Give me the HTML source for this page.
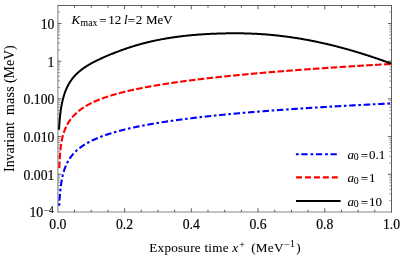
<!DOCTYPE html>
<html><head><meta charset="utf-8"><title>Invariant mass vs exposure time</title>
<style>
html,body{margin:0;padding:0;background:#fff;}
svg{display:block;will-change:transform;}
text{font-family:"Liberation Serif",serif;font-size:13.7px;fill:#000;stroke:#000;stroke-width:0.18px;}
</style></head><body>
<svg width="400" height="256" viewBox="0 0 400 256">
<rect width="400" height="256" fill="#fff"/>
<path d="M57.45 5.5 H392.0 M391.5 5.5 V212.4" fill="none" stroke="#606060" stroke-width="1"/>
<path d="M57.45 212.0 H392.0" fill="none" stroke="#666" stroke-width="0.8"/>
<path d="M57.9 5.5 V212.4" fill="none" stroke="#666" stroke-width="0.85"/>
<path d="M74.53 212.0 v-2.3 M74.53 5.5 v2.3 M91.22 212.0 v-2.3 M91.22 5.5 v2.3 M107.90 212.0 v-2.3 M107.90 5.5 v2.3 M124.58 212.0 v-3.8 M124.58 5.5 v3.8 M141.26 212.0 v-2.3 M141.26 5.5 v2.3 M157.95 212.0 v-2.3 M157.95 5.5 v2.3 M174.63 212.0 v-2.3 M174.63 5.5 v2.3 M191.31 212.0 v-3.8 M191.31 5.5 v3.8 M207.99 212.0 v-2.3 M207.99 5.5 v2.3 M224.67 212.0 v-2.3 M224.67 5.5 v2.3 M241.36 212.0 v-2.3 M241.36 5.5 v2.3 M258.04 212.0 v-3.8 M258.04 5.5 v3.8 M274.72 212.0 v-2.3 M274.72 5.5 v2.3 M291.41 212.0 v-2.3 M291.41 5.5 v2.3 M308.09 212.0 v-2.3 M308.09 5.5 v2.3 M324.77 212.0 v-3.8 M324.77 5.5 v3.8 M341.45 212.0 v-2.3 M341.45 5.5 v2.3 M358.13 212.0 v-2.3 M358.13 5.5 v2.3 M374.82 212.0 v-2.3 M374.82 5.5 v2.3 M57.85 174.30 h3.6 M391.5 174.30 h-3.6 M57.85 136.60 h3.6 M391.5 136.60 h-3.6 M57.85 98.89 h3.6 M391.5 98.89 h-3.6 M57.85 61.19 h3.6 M391.5 61.19 h-3.6 M57.85 23.49 h3.6 M391.5 23.49 h-3.6" fill="none" stroke="#383838" stroke-width="0.8"/>
<path d="M57.85 200.65 h2.2 M391.5 200.65 h-2.2 M57.85 194.01 h2.2 M391.5 194.01 h-2.2 M57.85 189.30 h2.2 M391.5 189.30 h-2.2 M57.85 185.65 h2.2 M391.5 185.65 h-2.2 M57.85 182.66 h2.2 M391.5 182.66 h-2.2 M57.85 180.14 h2.2 M391.5 180.14 h-2.2 M57.85 177.95 h2.2 M391.5 177.95 h-2.2 M57.85 176.02 h2.2 M391.5 176.02 h-2.2 M57.85 162.95 h2.2 M391.5 162.95 h-2.2 M57.85 156.31 h2.2 M391.5 156.31 h-2.2 M57.85 151.60 h2.2 M391.5 151.60 h-2.2 M57.85 147.94 h2.2 M391.5 147.94 h-2.2 M57.85 144.96 h2.2 M391.5 144.96 h-2.2 M57.85 142.44 h2.2 M391.5 142.44 h-2.2 M57.85 140.25 h2.2 M391.5 140.25 h-2.2 M57.85 138.32 h2.2 M391.5 138.32 h-2.2 M57.85 125.25 h2.2 M391.5 125.25 h-2.2 M57.85 118.61 h2.2 M391.5 118.61 h-2.2 M57.85 113.90 h2.2 M391.5 113.90 h-2.2 M57.85 110.24 h2.2 M391.5 110.24 h-2.2 M57.85 107.26 h2.2 M391.5 107.26 h-2.2 M57.85 104.73 h2.2 M391.5 104.73 h-2.2 M57.85 102.55 h2.2 M391.5 102.55 h-2.2 M57.85 100.62 h2.2 M391.5 100.62 h-2.2 M57.85 87.54 h2.2 M391.5 87.54 h-2.2 M57.85 80.90 h2.2 M391.5 80.90 h-2.2 M57.85 76.19 h2.2 M391.5 76.19 h-2.2 M57.85 72.54 h2.2 M391.5 72.54 h-2.2 M57.85 69.56 h2.2 M391.5 69.56 h-2.2 M57.85 67.03 h2.2 M391.5 67.03 h-2.2 M57.85 64.84 h2.2 M391.5 64.84 h-2.2 M57.85 62.92 h2.2 M391.5 62.92 h-2.2 M57.85 49.84 h2.2 M391.5 49.84 h-2.2 M57.85 43.20 h2.2 M391.5 43.20 h-2.2 M57.85 38.49 h2.2 M391.5 38.49 h-2.2 M57.85 34.84 h2.2 M391.5 34.84 h-2.2 M57.85 31.85 h2.2 M391.5 31.85 h-2.2 M57.85 29.33 h2.2 M391.5 29.33 h-2.2 M57.85 27.14 h2.2 M391.5 27.14 h-2.2 M57.85 25.21 h2.2 M391.5 25.21 h-2.2 M57.85 12.14 h2.2 M391.5 12.14 h-2.2" fill="none" stroke="#6a6a6a" stroke-width="0.7"/>
<path d="M59.20 205.91 L59.23 205.27 L59.26 204.64 L59.30 204.00 L59.33 203.37 L59.37 202.73 L59.41 202.10 L59.44 201.46 L59.48 200.83 L59.52 200.20 L59.57 199.56 L59.61 198.93 L59.65 198.29 L59.70 197.66 L59.74 197.02 L59.79 196.39 L59.84 195.76 L59.89 195.12 L59.95 194.49 L60.00 193.86 L60.06 193.22 L60.12 192.59 L60.18 191.96 L60.24 191.33 L60.30 190.69 L60.37 190.06 L60.44 189.43 L60.51 188.80 L60.58 188.17 L60.66 187.53 L60.74 186.90 L60.82 186.27 L60.90 185.64 L60.99 185.01 L61.07 184.38 L61.17 183.76 L61.26 183.13 L61.36 182.50 L61.46 181.87 L61.57 181.24 L61.68 180.62 L61.79 179.99 L61.90 179.37 L62.03 178.74 L62.15 178.12 L62.28 177.50 L62.41 176.88 L62.55 176.26 L62.69 175.64 L62.84 175.02 L62.99 174.40 L63.15 173.79 L63.31 173.17 L63.48 172.56 L63.66 171.95 L63.84 171.34 L64.02 170.73 L64.22 170.12 L64.42 169.52 L64.62 168.92 L64.84 168.32 L65.05 167.72 L65.28 167.13 L65.52 166.54 L65.76 165.95 L66.01 165.37 L66.26 164.78 L66.53 164.21 L66.80 163.63 L67.08 163.06 L67.37 162.49 L67.66 161.93 L67.97 161.37 L68.28 160.82 L68.60 160.27 L68.93 159.73 L69.27 159.19 L69.61 158.66 L69.96 158.13 L70.33 157.60 L70.70 157.09 L71.07 156.58 L71.46 156.07 L71.85 155.57 L72.25 155.08 L72.66 154.59 L73.08 154.11 L73.50 153.64 L73.93 153.17 L74.37 152.71 L74.81 152.25 L75.26 151.80 L75.72 151.36 L76.18 150.93 L76.65 150.50 L77.13 150.07 L77.61 149.66 L78.09 149.25 L78.58 148.84 L79.08 148.45 L79.58 148.05 L80.08 147.67 L80.59 147.29 L81.11 146.92 L81.63 146.55 L82.15 146.18 L82.67 145.83 L83.20 145.48 L83.74 145.13 L84.27 144.79 L84.81 144.45 L85.36 144.12 L85.90 143.80 L86.45 143.48 L87.00 143.16 L87.56 142.85 L88.12 142.55 L88.67 142.24 L89.24 141.95 L89.80 141.65 L90.37 141.36 L90.93 141.08 L91.50 140.80 L92.08 140.52 L92.65 140.25 L93.23 139.98 L93.80 139.71 L94.38 139.45 L94.96 139.19 L95.54 138.93 L96.13 138.68 L96.71 138.43 L97.30 138.19 L97.89 137.94 L98.48 137.71 L99.07 137.47 L99.66 137.23 L100.25 137.00 L100.84 136.78 L101.44 136.55 L102.03 136.33 L102.63 136.11 L103.23 135.89 L103.82 135.68 L104.42 135.46 L105.02 135.25 L105.62 135.04 L106.22 134.84 L106.83 134.64 L107.43 134.44 L108.03 134.24 L108.64 134.04 L109.24 133.85 L109.85 133.65 L110.46 133.46 L111.06 133.27 L111.67 133.09 L112.28 132.90 L112.89 132.72 L113.50 132.54 L114.11 132.36 L114.72 132.18 L115.33 132.01 L115.94 131.84 L116.55 131.66 L117.16 131.49 L117.78 131.32 L118.39 131.16 L119.00 130.99 L119.62 130.83 L120.23 130.67 L120.85 130.50 L121.46 130.34 L122.08 130.19 L122.69 130.03 L123.31 129.87 L123.93 129.72 L124.54 129.57 L125.16 129.42 L125.78 129.27 L126.40 129.12 L127.02 128.97 L127.63 128.83 L128.25 128.68 L128.87 128.54 L129.49 128.39 L130.11 128.25 L130.73 128.11 L131.35 127.97 L131.97 127.84 L132.59 127.70 L133.21 127.56 L133.84 127.43 L134.46 127.30 L135.08 127.16 L135.70 127.03 L136.32 126.90 L136.95 126.77 L137.57 126.64 L138.19 126.52 L138.81 126.39 L139.44 126.26 L140.06 126.14 L140.68 126.02 L141.31 125.89 L141.93 125.77 L142.55 125.65 L143.18 125.53 L143.80 125.41 L144.43 125.29 L145.05 125.17 L145.68 125.06 L146.30 124.94 L146.93 124.82 L147.55 124.71 L148.18 124.60 L148.80 124.48 L149.43 124.37 L150.05 124.26 L150.68 124.15 L151.31 124.04 L151.93 123.93 L152.56 123.82 L153.19 123.71 L153.81 123.61 L154.44 123.50 L155.07 123.39 L155.69 123.29 L156.32 123.18 L156.95 123.08 L157.57 122.98 L158.20 122.87 L158.83 122.77 L159.46 122.67 L160.08 122.57 L160.71 122.47 L161.34 122.37 L161.97 122.27 L162.59 122.17 L163.22 122.08 L163.85 121.98 L164.48 121.88 L165.11 121.79 L165.74 121.69 L166.36 121.60 L166.99 121.50 L167.62 121.41 L168.25 121.31 L168.88 121.22 L169.51 121.13 L170.14 121.04 L170.77 120.95 L171.40 120.86 L172.02 120.77 L172.65 120.68 L173.28 120.59 L173.91 120.50 L174.54 120.41 L175.17 120.32 L175.80 120.23 L176.43 120.15 L177.06 120.06 L177.69 119.97 L178.32 119.89 L178.95 119.80 L179.58 119.72 L180.21 119.64 L180.84 119.55 L181.47 119.47 L182.10 119.39 L182.73 119.30 L183.36 119.22 L183.99 119.14 L184.62 119.06 L185.25 118.98 L185.88 118.90 L186.51 118.82 L187.14 118.74 L187.77 118.66 L188.41 118.58 L189.04 118.50 L189.67 118.42 L190.30 118.34 L190.93 118.27 L191.56 118.19 L192.19 118.11 L192.82 118.04 L193.45 117.96 L194.08 117.88 L194.71 117.81 L195.35 117.73 L195.98 117.66 L196.61 117.59 L197.24 117.51 L197.87 117.44 L198.50 117.36 L199.13 117.29 L199.77 117.22 L200.40 117.15 L201.03 117.07 L201.66 117.00 L202.29 116.93 L202.92 116.86 L203.56 116.79 L204.19 116.72 L204.82 116.65 L205.45 116.58 L206.08 116.51 L206.71 116.44 L207.35 116.37 L207.98 116.30 L208.61 116.24 L209.24 116.17 L209.87 116.10 L210.51 116.03 L211.14 115.97 L211.77 115.90 L212.40 115.83 L213.03 115.77 L213.67 115.70 L214.30 115.63 L214.93 115.57 L215.56 115.50 L216.20 115.44 L216.83 115.37 L217.46 115.31 L218.09 115.24 L218.73 115.18 L219.36 115.12 L219.99 115.05 L220.62 114.99 L221.26 114.93 L221.89 114.86 L222.52 114.80 L223.15 114.74 L223.79 114.68 L224.42 114.62 L225.05 114.55 L225.68 114.49 L226.32 114.43 L226.95 114.37 L227.58 114.31 L228.21 114.25 L228.85 114.19 L229.48 114.13 L230.11 114.07 L230.75 114.01 L231.38 113.95 L232.01 113.89 L232.64 113.83 L233.28 113.77 L233.91 113.72 L234.54 113.66 L235.18 113.60 L235.81 113.54 L236.44 113.48 L237.08 113.43 L237.71 113.37 L238.34 113.31 L238.97 113.26 L239.61 113.20 L240.24 113.14 L240.87 113.09 L241.51 113.03 L242.14 112.98 L242.77 112.92 L243.41 112.87 L244.04 112.81 L244.67 112.75 L245.31 112.70 L245.94 112.65 L246.57 112.59 L247.21 112.54 L247.84 112.48 L248.47 112.43 L249.11 112.38 L249.74 112.32 L250.37 112.27 L251.01 112.22 L251.64 112.16 L252.27 112.11 L252.91 112.06 L253.54 112.00 L254.17 111.95 L254.81 111.90 L255.44 111.85 L256.07 111.80 L256.71 111.74 L257.34 111.69 L257.97 111.64 L258.61 111.59 L259.24 111.54 L259.88 111.49 L260.51 111.44 L261.14 111.39 L261.78 111.34 L262.41 111.29 L263.04 111.24 L263.68 111.19 L264.31 111.14 L264.94 111.09 L265.58 111.04 L266.21 110.99 L266.85 110.94 L267.48 110.89 L268.11 110.84 L268.75 110.79 L269.38 110.75 L270.01 110.70 L270.65 110.65 L271.28 110.60 L271.92 110.55 L272.55 110.51 L273.18 110.46 L273.82 110.41 L274.45 110.36 L275.09 110.32 L275.72 110.27 L276.35 110.22 L276.99 110.18 L277.62 110.13 L278.26 110.08 L278.89 110.04 L279.52 109.99 L280.16 109.94 L280.79 109.90 L281.42 109.85 L282.06 109.81 L282.69 109.76 L283.33 109.72 L283.96 109.67 L284.59 109.63 L285.23 109.58 L285.86 109.54 L286.50 109.49 L287.13 109.45 L287.77 109.40 L288.40 109.36 L289.03 109.31 L289.67 109.27 L290.30 109.23 L290.94 109.18 L291.57 109.14 L292.20 109.09 L292.84 109.05 L293.47 109.01 L294.11 108.96 L294.74 108.92 L295.37 108.88 L296.01 108.83 L296.64 108.79 L297.28 108.75 L297.91 108.71 L298.55 108.66 L299.18 108.62 L299.81 108.58 L300.45 108.54 L301.08 108.50 L301.72 108.45 L302.35 108.41 L302.99 108.37 L303.62 108.33 L304.25 108.29 L304.89 108.25 L305.52 108.20 L306.16 108.16 L306.79 108.12 L307.43 108.08 L308.06 108.04 L308.69 108.00 L309.33 107.96 L309.96 107.92 L310.60 107.88 L311.23 107.84 L311.87 107.80 L312.50 107.76 L313.13 107.72 L313.77 107.68 L314.40 107.64 L315.04 107.60 L315.67 107.56 L316.31 107.52 L316.94 107.48 L317.58 107.44 L318.21 107.40 L318.84 107.36 L319.48 107.32 L320.11 107.28 L320.75 107.25 L321.38 107.21 L322.02 107.17 L322.65 107.13 L323.29 107.09 L323.92 107.05 L324.55 107.01 L325.19 106.98 L325.82 106.94 L326.46 106.90 L327.09 106.86 L327.73 106.82 L328.36 106.79 L329.00 106.75 L329.63 106.71 L330.27 106.67 L330.90 106.64 L331.53 106.60 L332.17 106.56 L332.80 106.53 L333.44 106.49 L334.07 106.45 L334.71 106.41 L335.34 106.38 L335.98 106.34 L336.61 106.31 L337.25 106.27 L337.88 106.23 L338.51 106.20 L339.15 106.16 L339.78 106.12 L340.42 106.09 L341.05 106.05 L341.69 106.02 L342.32 105.98 L342.96 105.94 L343.59 105.91 L344.23 105.87 L344.86 105.84 L345.50 105.80 L346.13 105.77 L346.76 105.73 L347.40 105.70 L348.03 105.66 L348.67 105.63 L349.30 105.59 L349.94 105.56 L350.57 105.52 L351.21 105.49 L351.84 105.45 L352.48 105.42 L353.11 105.38 L353.75 105.35 L354.38 105.32 L355.02 105.28 L355.65 105.25 L356.28 105.21 L356.92 105.18 L357.55 105.14 L358.19 105.11 L358.82 105.08 L359.46 105.04 L360.09 105.01 L360.73 104.98 L361.36 104.94 L362.00 104.91 L362.63 104.88 L363.27 104.84 L363.90 104.81 L364.54 104.78 L365.17 104.74 L365.81 104.71 L366.44 104.68 L367.08 104.64 L367.71 104.61 L368.35 104.58 L368.98 104.55 L369.61 104.51 L370.25 104.48 L370.88 104.45 L371.52 104.42 L372.15 104.38 L372.79 104.35 L373.42 104.32 L374.06 104.29 L374.69 104.26 L375.33 104.22 L375.96 104.19 L376.60 104.16 L377.23 104.13 L377.87 104.10 L378.50 104.06 L379.14 104.03 L379.77 104.00 L380.41 103.97 L381.04 103.94 L381.68 103.91 L382.31 103.88 L382.95 103.84 L383.58 103.81 L384.22 103.78 L384.85 103.75 L385.49 103.72 L386.12 103.69 L386.76 103.66 L387.39 103.63 L388.03 103.60 L388.66 103.57 L389.30 103.54 L389.93 103.51 L390.57 103.48 L391.20 103.44" fill="none" stroke="#0000ff" stroke-width="2.1" stroke-dasharray="6.57 2.67 2.58 2.67" stroke-dashoffset="-5.4"/>
<path d="M59.30 168.45 L59.32 167.81 L59.35 167.17 L59.37 166.54 L59.40 165.90 L59.43 165.27 L59.46 164.63 L59.49 163.99 L59.52 163.36 L59.55 162.72 L59.58 162.09 L59.61 161.45 L59.64 160.82 L59.68 160.18 L59.71 159.54 L59.75 158.91 L59.79 158.27 L59.83 157.64 L59.87 157.00 L59.91 156.37 L59.96 155.73 L60.00 155.10 L60.05 154.46 L60.10 153.83 L60.15 153.19 L60.20 152.56 L60.25 151.92 L60.31 151.29 L60.37 150.66 L60.43 150.02 L60.50 149.39 L60.56 148.76 L60.63 148.12 L60.70 147.49 L60.78 146.86 L60.86 146.23 L60.94 145.60 L61.02 144.96 L61.11 144.33 L61.20 143.70 L61.30 143.08 L61.40 142.45 L61.50 141.82 L61.61 141.19 L61.73 140.57 L61.85 139.94 L61.98 139.32 L62.11 138.69 L62.24 138.07 L62.39 137.45 L62.54 136.83 L62.69 136.22 L62.86 135.60 L63.02 134.99 L63.20 134.38 L63.39 133.77 L63.58 133.16 L63.78 132.55 L63.98 131.95 L64.20 131.35 L64.42 130.76 L64.65 130.16 L64.88 129.57 L65.13 128.98 L65.38 128.40 L65.64 127.82 L65.90 127.24 L66.18 126.66 L66.46 126.09 L66.75 125.52 L67.04 124.96 L67.35 124.40 L67.66 123.85 L67.98 123.30 L68.31 122.75 L68.64 122.21 L68.99 121.67 L69.34 121.14 L69.70 120.62 L70.06 120.10 L70.44 119.58 L70.82 119.07 L71.21 118.57 L71.60 118.07 L72.01 117.58 L72.42 117.09 L72.84 116.61 L73.26 116.14 L73.69 115.67 L74.13 115.20 L74.57 114.75 L75.02 114.30 L75.48 113.85 L75.94 113.42 L76.41 112.98 L76.88 112.56 L77.36 112.14 L77.84 111.73 L78.33 111.32 L78.83 110.92 L79.33 110.52 L79.83 110.13 L80.34 109.75 L80.85 109.37 L81.37 109.00 L81.89 108.63 L82.41 108.27 L82.94 107.91 L83.47 107.56 L84.01 107.22 L84.54 106.88 L85.09 106.54 L85.63 106.21 L86.18 105.89 L86.73 105.57 L87.28 105.25 L87.84 104.94 L88.39 104.64 L88.96 104.34 L89.52 104.04 L90.08 103.75 L90.65 103.46 L91.22 103.17 L91.79 102.89 L92.37 102.62 L92.94 102.34 L93.52 102.08 L94.10 101.81 L94.68 101.55 L95.26 101.29 L95.84 101.04 L96.43 100.79 L97.01 100.54 L97.60 100.29 L98.19 100.05 L98.78 99.81 L99.37 99.58 L99.97 99.34 L100.56 99.12 L101.15 98.89 L101.75 98.66 L102.35 98.44 L102.94 98.22 L103.54 98.01 L104.14 97.79 L104.74 97.58 L105.34 97.37 L105.95 97.17 L106.55 96.96 L107.15 96.76 L107.76 96.56 L108.36 96.37 L108.97 96.17 L109.58 95.98 L110.18 95.79 L110.79 95.60 L111.40 95.41 L112.01 95.23 L112.62 95.04 L113.23 94.86 L113.84 94.68 L114.45 94.50 L115.06 94.33 L115.67 94.15 L116.29 93.98 L116.90 93.81 L117.51 93.64 L118.13 93.47 L118.74 93.31 L119.36 93.14 L119.97 92.98 L120.59 92.82 L121.21 92.66 L121.82 92.50 L122.44 92.34 L123.06 92.18 L123.67 92.03 L124.29 91.88 L124.91 91.72 L125.53 91.57 L126.15 91.42 L126.77 91.28 L127.39 91.13 L128.00 90.98 L128.62 90.84 L129.25 90.70 L129.87 90.55 L130.49 90.41 L131.11 90.27 L131.73 90.13 L132.35 90.00 L132.97 89.86 L133.59 89.72 L134.22 89.59 L134.84 89.45 L135.46 89.32 L136.08 89.19 L136.71 89.06 L137.33 88.93 L137.95 88.80 L138.58 88.67 L139.20 88.55 L139.82 88.42 L140.45 88.29 L141.07 88.17 L141.70 88.05 L142.32 87.92 L142.95 87.80 L143.57 87.68 L144.20 87.56 L144.82 87.44 L145.45 87.32 L146.07 87.20 L146.70 87.09 L147.33 86.97 L147.95 86.86 L148.58 86.74 L149.20 86.63 L149.83 86.51 L150.46 86.40 L151.08 86.29 L151.71 86.18 L152.34 86.07 L152.96 85.96 L153.59 85.85 L154.22 85.74 L154.85 85.63 L155.47 85.52 L156.10 85.42 L156.73 85.31 L157.36 85.21 L157.98 85.10 L158.61 85.00 L159.24 84.89 L159.87 84.79 L160.50 84.69 L161.13 84.59 L161.75 84.48 L162.38 84.38 L163.01 84.28 L163.64 84.18 L164.27 84.08 L164.90 83.99 L165.53 83.89 L166.16 83.79 L166.78 83.69 L167.41 83.60 L168.04 83.50 L168.67 83.40 L169.30 83.31 L169.93 83.22 L170.56 83.12 L171.19 83.03 L171.82 82.93 L172.45 82.84 L173.08 82.75 L173.71 82.66 L174.34 82.57 L174.97 82.48 L175.60 82.39 L176.23 82.30 L176.86 82.21 L177.49 82.12 L178.12 82.03 L178.75 81.94 L179.38 81.85 L180.01 81.77 L180.64 81.68 L181.27 81.59 L181.91 81.51 L182.54 81.42 L183.17 81.33 L183.80 81.25 L184.43 81.16 L185.06 81.08 L185.69 81.00 L186.32 80.91 L186.95 80.83 L187.58 80.75 L188.22 80.67 L188.85 80.58 L189.48 80.50 L190.11 80.42 L190.74 80.34 L191.37 80.26 L192.00 80.18 L192.64 80.10 L193.27 80.02 L193.90 79.94 L194.53 79.86 L195.16 79.78 L195.79 79.70 L196.43 79.63 L197.06 79.55 L197.69 79.47 L198.32 79.39 L198.95 79.32 L199.59 79.24 L200.22 79.17 L200.85 79.09 L201.48 79.01 L202.11 78.94 L202.75 78.86 L203.38 78.79 L204.01 78.72 L204.64 78.64 L205.28 78.57 L205.91 78.49 L206.54 78.42 L207.17 78.35 L207.81 78.28 L208.44 78.20 L209.07 78.13 L209.70 78.06 L210.34 77.99 L210.97 77.92 L211.60 77.85 L212.23 77.78 L212.87 77.71 L213.50 77.64 L214.13 77.57 L214.76 77.50 L215.40 77.43 L216.03 77.36 L216.66 77.29 L217.30 77.22 L217.93 77.15 L218.56 77.08 L219.19 77.01 L219.83 76.95 L220.46 76.88 L221.09 76.81 L221.73 76.75 L222.36 76.68 L222.99 76.61 L223.63 76.55 L224.26 76.48 L224.89 76.41 L225.53 76.35 L226.16 76.28 L226.79 76.22 L227.43 76.15 L228.06 76.09 L228.69 76.02 L229.32 75.96 L229.96 75.90 L230.59 75.83 L231.23 75.77 L231.86 75.70 L232.49 75.64 L233.13 75.58 L233.76 75.52 L234.39 75.45 L235.03 75.39 L235.66 75.33 L236.29 75.27 L236.93 75.20 L237.56 75.14 L238.19 75.08 L238.83 75.02 L239.46 74.96 L240.09 74.90 L240.73 74.84 L241.36 74.78 L242.00 74.72 L242.63 74.66 L243.26 74.60 L243.90 74.54 L244.53 74.48 L245.16 74.42 L245.80 74.36 L246.43 74.30 L247.07 74.24 L247.70 74.18 L248.33 74.12 L248.97 74.06 L249.60 74.01 L250.24 73.95 L250.87 73.89 L251.50 73.83 L252.14 73.77 L252.77 73.72 L253.41 73.66 L254.04 73.60 L254.67 73.55 L255.31 73.49 L255.94 73.43 L256.58 73.38 L257.21 73.32 L257.84 73.26 L258.48 73.21 L259.11 73.15 L259.75 73.10 L260.38 73.04 L261.02 72.99 L261.65 72.93 L262.28 72.87 L262.92 72.82 L263.55 72.77 L264.19 72.71 L264.82 72.66 L265.46 72.60 L266.09 72.55 L266.72 72.49 L267.36 72.44 L267.99 72.39 L268.63 72.33 L269.26 72.28 L269.90 72.23 L270.53 72.17 L271.16 72.12 L271.80 72.07 L272.43 72.01 L273.07 71.96 L273.70 71.91 L274.34 71.86 L274.97 71.80 L275.61 71.75 L276.24 71.70 L276.87 71.65 L277.51 71.60 L278.14 71.55 L278.78 71.49 L279.41 71.44 L280.05 71.39 L280.68 71.34 L281.32 71.29 L281.95 71.24 L282.58 71.19 L283.22 71.14 L283.85 71.09 L284.49 71.04 L285.12 70.99 L285.76 70.94 L286.39 70.89 L287.03 70.84 L287.66 70.79 L288.30 70.74 L288.93 70.69 L289.57 70.64 L290.20 70.59 L290.84 70.54 L291.47 70.49 L292.10 70.44 L292.74 70.40 L293.37 70.35 L294.01 70.30 L294.64 70.25 L295.28 70.20 L295.91 70.15 L296.55 70.11 L297.18 70.06 L297.82 70.01 L298.45 69.96 L299.09 69.92 L299.72 69.87 L300.36 69.82 L300.99 69.77 L301.63 69.73 L302.26 69.68 L302.90 69.63 L303.53 69.59 L304.17 69.54 L304.80 69.49 L305.44 69.45 L306.07 69.40 L306.71 69.35 L307.34 69.31 L307.98 69.26 L308.61 69.21 L309.25 69.17 L309.88 69.12 L310.52 69.08 L311.15 69.03 L311.79 68.99 L312.42 68.94 L313.06 68.90 L313.69 68.85 L314.33 68.80 L314.96 68.76 L315.60 68.71 L316.23 68.67 L316.87 68.63 L317.50 68.58 L318.14 68.54 L318.77 68.49 L319.41 68.45 L320.04 68.40 L320.68 68.36 L321.31 68.31 L321.95 68.27 L322.58 68.23 L323.22 68.18 L323.85 68.14 L324.49 68.10 L325.12 68.05 L325.76 68.01 L326.39 67.97 L327.03 67.92 L327.66 67.88 L328.30 67.84 L328.93 67.79 L329.57 67.75 L330.20 67.71 L330.84 67.66 L331.47 67.62 L332.11 67.58 L332.74 67.54 L333.38 67.49 L334.01 67.45 L334.65 67.41 L335.28 67.37 L335.92 67.33 L336.55 67.28 L337.19 67.24 L337.82 67.20 L338.46 67.16 L339.10 67.12 L339.73 67.08 L340.37 67.03 L341.00 66.99 L341.64 66.95 L342.27 66.91 L342.91 66.87 L343.54 66.83 L344.18 66.79 L344.81 66.75 L345.45 66.71 L346.08 66.66 L346.72 66.62 L347.35 66.58 L347.99 66.54 L348.62 66.50 L349.26 66.46 L349.90 66.42 L350.53 66.38 L351.17 66.34 L351.80 66.30 L352.44 66.26 L353.07 66.22 L353.71 66.18 L354.34 66.14 L354.98 66.10 L355.61 66.06 L356.25 66.02 L356.88 65.98 L357.52 65.94 L358.15 65.90 L358.79 65.87 L359.43 65.83 L360.06 65.79 L360.70 65.75 L361.33 65.71 L361.97 65.67 L362.60 65.63 L363.24 65.59 L363.87 65.55 L364.51 65.52 L365.14 65.48 L365.78 65.44 L366.41 65.40 L367.05 65.36 L367.69 65.32 L368.32 65.28 L368.96 65.25 L369.59 65.21 L370.23 65.17 L370.86 65.13 L371.50 65.09 L372.13 65.06 L372.77 65.02 L373.41 64.98 L374.04 64.94 L374.68 64.91 L375.31 64.87 L375.95 64.83 L376.58 64.79 L377.22 64.76 L377.85 64.72 L378.49 64.68 L379.12 64.64 L379.76 64.61 L380.40 64.57 L381.03 64.53 L381.67 64.50 L382.30 64.46 L382.94 64.42 L383.57 64.39 L384.21 64.35 L384.84 64.31 L385.48 64.28 L386.12 64.24 L386.75 64.20 L387.39 64.17 L388.02 64.13 L388.66 64.10 L389.29 64.06 L389.93 64.02 L390.56 63.99 L391.20 63.95" fill="none" stroke="#ff0000" stroke-width="2.1" stroke-dasharray="6.6 2.3" stroke-dashoffset="-0.3"/>
<path d="M59.00 129.70 L59.04 129.06 L59.07 128.41 L59.11 127.77 L59.15 127.13 L59.19 126.48 L59.23 125.84 L59.28 125.20 L59.32 124.55 L59.37 123.91 L59.42 123.27 L59.46 122.62 L59.52 121.98 L59.57 121.34 L59.62 120.69 L59.68 120.05 L59.73 119.41 L59.79 118.77 L59.85 118.12 L59.92 117.48 L59.98 116.84 L60.05 116.20 L60.12 115.56 L60.19 114.92 L60.26 114.28 L60.34 113.63 L60.42 112.99 L60.50 112.35 L60.58 111.71 L60.67 111.08 L60.76 110.44 L60.85 109.80 L60.95 109.16 L61.04 108.52 L61.15 107.89 L61.25 107.25 L61.36 106.61 L61.47 105.98 L61.58 105.34 L61.70 104.71 L61.82 104.08 L61.95 103.44 L62.08 102.81 L62.21 102.18 L62.35 101.55 L62.49 100.92 L62.64 100.29 L62.79 99.67 L62.95 99.04 L63.11 98.42 L63.28 97.79 L63.45 97.17 L63.63 96.55 L63.81 95.93 L64.00 95.31 L64.19 94.70 L64.39 94.08 L64.59 93.47 L64.80 92.86 L65.02 92.26 L65.24 91.65 L65.47 91.05 L65.71 90.45 L65.96 89.85 L66.21 89.26 L66.46 88.67 L66.73 88.08 L67.00 87.49 L67.28 86.91 L67.56 86.33 L67.85 85.76 L68.16 85.19 L68.46 84.62 L68.78 84.06 L69.10 83.50 L69.43 82.94 L69.77 82.39 L70.12 81.85 L70.47 81.31 L70.83 80.78 L71.20 80.25 L71.57 79.72 L71.96 79.20 L72.35 78.69 L72.74 78.18 L73.15 77.68 L73.56 77.18 L73.98 76.69 L74.41 76.21 L74.84 75.73 L75.28 75.26 L75.72 74.79 L76.17 74.33 L76.63 73.87 L77.10 73.43 L77.57 72.98 L78.04 72.55 L78.52 72.12 L79.01 71.69 L79.50 71.28 L80.00 70.87 L80.50 70.46 L81.01 70.06 L81.52 69.67 L82.03 69.28 L82.55 68.90 L83.08 68.52 L83.60 68.15 L84.13 67.78 L84.67 67.42 L85.20 67.06 L85.74 66.71 L86.29 66.36 L86.83 66.02 L87.38 65.68 L87.93 65.34 L88.48 65.01 L89.04 64.68 L89.60 64.36 L90.16 64.04 L90.72 63.72 L91.28 63.41 L91.85 63.10 L92.42 62.79 L92.98 62.48 L93.55 62.18 L94.13 61.88 L94.70 61.59 L95.27 61.30 L95.85 61.01 L96.43 60.72 L97.01 60.43 L97.59 60.15 L98.17 59.87 L98.75 59.59 L99.33 59.31 L99.92 59.04 L100.50 58.77 L101.09 58.50 L101.67 58.23 L102.26 57.97 L102.85 57.70 L103.44 57.44 L104.03 57.18 L104.62 56.92 L105.21 56.66 L105.81 56.41 L106.40 56.15 L106.99 55.90 L107.59 55.65 L108.18 55.40 L108.78 55.16 L109.37 54.91 L109.97 54.66 L110.57 54.42 L111.17 54.18 L111.76 53.94 L112.36 53.70 L112.96 53.46 L113.56 53.22 L114.16 52.99 L114.76 52.75 L115.36 52.52 L115.97 52.29 L116.57 52.06 L117.17 51.83 L117.77 51.60 L118.38 51.37 L118.98 51.14 L119.59 50.92 L120.19 50.69 L120.80 50.47 L121.40 50.25 L122.01 50.03 L122.62 49.81 L123.22 49.59 L123.83 49.38 L124.44 49.16 L125.05 48.95 L125.66 48.74 L126.27 48.53 L126.88 48.32 L127.49 48.12 L128.10 47.91 L128.71 47.71 L129.33 47.51 L129.94 47.31 L130.55 47.11 L131.17 46.91 L131.78 46.72 L132.40 46.52 L133.01 46.33 L133.63 46.14 L134.25 45.95 L134.86 45.76 L135.48 45.58 L136.10 45.40 L136.72 45.21 L137.34 45.03 L137.96 44.85 L138.58 44.68 L139.20 44.50 L139.82 44.33 L140.44 44.16 L141.06 43.98 L141.69 43.82 L142.31 43.65 L142.93 43.48 L143.56 43.32 L144.18 43.16 L144.81 43.00 L145.43 42.84 L146.06 42.68 L146.68 42.52 L147.31 42.37 L147.94 42.22 L148.56 42.07 L149.19 41.92 L149.82 41.77 L150.45 41.62 L151.08 41.48 L151.70 41.33 L152.33 41.19 L152.96 41.05 L153.59 40.91 L154.22 40.78 L154.85 40.64 L155.49 40.51 L156.12 40.37 L156.75 40.24 L157.38 40.11 L158.01 39.99 L158.65 39.86 L159.28 39.74 L159.91 39.61 L160.55 39.49 L161.18 39.37 L161.81 39.25 L162.45 39.13 L163.08 39.02 L163.72 38.90 L164.35 38.79 L164.99 38.68 L165.62 38.57 L166.26 38.46 L166.89 38.35 L167.53 38.25 L168.17 38.14 L168.80 38.04 L169.44 37.94 L170.08 37.83 L170.72 37.74 L171.35 37.64 L171.99 37.54 L172.63 37.45 L173.27 37.35 L173.91 37.26 L174.54 37.17 L175.18 37.08 L175.82 36.99 L176.46 36.90 L177.10 36.81 L177.74 36.73 L178.38 36.65 L179.02 36.56 L179.66 36.48 L180.30 36.40 L180.94 36.32 L181.58 36.25 L182.22 36.17 L182.86 36.09 L183.50 36.02 L184.14 35.95 L184.78 35.87 L185.42 35.80 L186.07 35.73 L186.71 35.67 L187.35 35.60 L187.99 35.53 L188.63 35.47 L189.27 35.40 L189.92 35.34 L190.56 35.28 L191.20 35.22 L191.84 35.16 L192.48 35.10 L193.13 35.04 L193.77 34.99 L194.41 34.93 L195.06 34.88 L195.70 34.82 L196.34 34.77 L196.98 34.72 L197.63 34.67 L198.27 34.62 L198.91 34.57 L199.56 34.53 L200.20 34.48 L200.84 34.44 L201.49 34.39 L202.13 34.35 L202.77 34.31 L203.42 34.27 L204.06 34.22 L204.71 34.19 L205.35 34.15 L205.99 34.11 L206.64 34.07 L207.28 34.04 L207.93 34.00 L208.57 33.97 L209.21 33.94 L209.86 33.90 L210.50 33.87 L211.15 33.84 L211.79 33.81 L212.44 33.78 L213.08 33.76 L213.73 33.73 L214.37 33.70 L215.01 33.68 L215.66 33.65 L216.30 33.63 L216.95 33.61 L217.59 33.58 L218.24 33.56 L218.88 33.54 L219.53 33.52 L220.17 33.50 L220.82 33.49 L221.46 33.47 L222.11 33.45 L222.75 33.44 L223.40 33.42 L224.04 33.41 L224.69 33.39 L225.33 33.38 L225.98 33.37 L226.62 33.36 L227.27 33.35 L227.91 33.34 L228.56 33.33 L229.20 33.32 L229.85 33.32 L230.49 33.31 L231.14 33.30 L231.78 33.30 L232.43 33.30 L233.07 33.29 L233.72 33.29 L234.36 33.29 L235.01 33.29 L235.65 33.29 L236.30 33.29 L236.94 33.30 L237.59 33.30 L238.23 33.30 L238.88 33.31 L239.52 33.32 L240.17 33.32 L240.81 33.33 L241.46 33.34 L242.10 33.35 L242.75 33.36 L243.39 33.37 L244.04 33.39 L244.68 33.40 L245.33 33.42 L245.97 33.43 L246.62 33.45 L247.26 33.47 L247.91 33.49 L248.55 33.51 L249.20 33.53 L249.84 33.55 L250.48 33.58 L251.13 33.60 L251.77 33.63 L252.42 33.66 L253.06 33.68 L253.71 33.71 L254.35 33.74 L255.00 33.77 L255.64 33.81 L256.28 33.84 L256.93 33.87 L257.57 33.91 L258.22 33.95 L258.86 33.98 L259.50 34.02 L260.15 34.06 L260.79 34.10 L261.44 34.14 L262.08 34.19 L262.72 34.23 L263.37 34.28 L264.01 34.32 L264.65 34.37 L265.30 34.42 L265.94 34.47 L266.58 34.52 L267.23 34.57 L267.87 34.62 L268.51 34.68 L269.15 34.73 L269.80 34.79 L270.44 34.84 L271.08 34.90 L271.72 34.96 L272.37 35.02 L273.01 35.08 L273.65 35.15 L274.29 35.21 L274.93 35.28 L275.58 35.34 L276.22 35.41 L276.86 35.48 L277.50 35.54 L278.14 35.61 L278.78 35.69 L279.42 35.76 L280.06 35.83 L280.71 35.91 L281.35 35.98 L281.99 36.06 L282.63 36.14 L283.27 36.21 L283.91 36.29 L284.55 36.37 L285.19 36.46 L285.83 36.54 L286.47 36.62 L287.11 36.71 L287.74 36.79 L288.38 36.88 L289.02 36.97 L289.66 37.06 L290.30 37.15 L290.94 37.24 L291.58 37.33 L292.22 37.43 L292.85 37.52 L293.49 37.62 L294.13 37.71 L294.77 37.81 L295.40 37.91 L296.04 38.01 L296.68 38.11 L297.32 38.21 L297.95 38.31 L298.59 38.42 L299.23 38.52 L299.86 38.63 L300.50 38.73 L301.14 38.84 L301.77 38.95 L302.41 39.06 L303.04 39.17 L303.68 39.28 L304.31 39.39 L304.95 39.51 L305.58 39.62 L306.22 39.74 L306.85 39.85 L307.49 39.97 L308.12 40.09 L308.75 40.21 L309.39 40.33 L310.02 40.45 L310.65 40.57 L311.29 40.69 L311.92 40.82 L312.55 40.95 L313.19 41.07 L313.82 41.20 L314.45 41.33 L315.08 41.46 L315.71 41.58 L316.35 41.72 L316.98 41.85 L317.61 41.98 L318.24 42.11 L318.87 42.25 L319.50 42.38 L320.13 42.52 L320.76 42.66 L321.39 42.79 L322.02 42.93 L322.65 43.07 L323.28 43.21 L323.91 43.36 L324.54 43.50 L325.17 43.64 L325.80 43.79 L326.43 43.93 L327.05 44.08 L327.68 44.23 L328.31 44.37 L328.94 44.52 L329.57 44.67 L330.19 44.82 L330.82 44.98 L331.45 45.13 L332.07 45.28 L332.70 45.44 L333.33 45.59 L333.95 45.75 L334.58 45.90 L335.20 46.06 L335.83 46.22 L336.45 46.38 L337.08 46.54 L337.70 46.70 L338.33 46.86 L338.95 47.02 L339.58 47.19 L340.20 47.35 L340.82 47.52 L341.45 47.68 L342.07 47.85 L342.69 48.02 L343.31 48.19 L343.94 48.36 L344.56 48.52 L345.18 48.70 L345.80 48.87 L346.42 49.04 L347.05 49.21 L347.67 49.39 L348.29 49.56 L348.91 49.74 L349.53 49.91 L350.15 50.09 L350.77 50.27 L351.39 50.45 L352.01 50.63 L352.63 50.81 L353.25 50.99 L353.87 51.17 L354.49 51.35 L355.10 51.54 L355.72 51.72 L356.34 51.91 L356.96 52.09 L357.58 52.28 L358.19 52.46 L358.81 52.65 L359.43 52.84 L360.04 53.03 L360.66 53.22 L361.28 53.41 L361.89 53.60 L362.51 53.79 L363.12 53.99 L363.74 54.18 L364.35 54.37 L364.97 54.57 L365.58 54.76 L366.20 54.96 L366.81 55.16 L367.43 55.35 L368.04 55.55 L368.65 55.75 L369.27 55.95 L369.88 56.15 L370.49 56.35 L371.11 56.56 L371.72 56.76 L372.33 56.96 L372.94 57.16 L373.55 57.37 L374.17 57.58 L374.78 57.78 L375.39 57.99 L376.00 58.19 L376.61 58.40 L377.22 58.61 L377.83 58.82 L378.44 59.03 L379.05 59.24 L379.66 59.45 L380.27 59.66 L380.88 59.88 L381.49 60.09 L382.10 60.30 L382.70 60.52 L383.31 60.73 L383.92 60.95 L384.53 61.16 L385.14 61.38 L385.74 61.60 L386.35 61.82 L386.96 62.03 L387.56 62.25 L388.17 62.47 L388.78 62.69 L389.38 62.91 L389.99 63.14 L390.59 63.36 L391.20 63.58" fill="none" stroke="#000" stroke-width="2.0"/>
<path d="M295.9 154.25 H336.8" stroke="#0000ff" stroke-width="2" stroke-dasharray="2.8 2.6 6.3 2.9" fill="none"/>
<path d="M296.1 177.4 H338" stroke="#ff0000" stroke-width="2.1" stroke-dasharray="5.95 2.98" fill="none"/>
<path d="M296.0 201.0 H340.6" stroke="#000" stroke-width="2" fill="none"/>
<text x="57.85" y="228.7" text-anchor="middle" >0.0</text>
<text x="124.58" y="228.7" text-anchor="middle" >0.2</text>
<text x="191.31" y="228.7" text-anchor="middle" >0.4</text>
<text x="258.04" y="228.7" text-anchor="middle" >0.6</text>
<text x="324.77" y="228.7" text-anchor="middle" >0.8</text>
<text x="391.50" y="228.7" text-anchor="middle" >1.0</text>
<text x="54.4" y="28.89" text-anchor="end" >10</text>
<text x="54.4" y="66.59" text-anchor="end" >1</text>
<text x="54.4" y="104.29" text-anchor="end" >0.100</text>
<text x="54.4" y="142.00" text-anchor="end" >0.010</text>
<text x="54.4" y="179.70" text-anchor="end" >0.001</text>
<text x="53.7" y="217.40" text-anchor="end" >10<tspan dy="-3.6" dx="0.5" style="font-size:9.4px">−</tspan><tspan dy="-1.2" style="font-size:9.4px">4</tspan></text>
<text x="149.3" y="251.5" text-anchor="start" xml:space="preserve" style="font-size:13.2px;stroke-width:0.05px" letter-spacing="0.22">Exposure time <tspan font-style="italic">x</tspan><tspan dy="-3.6" dx="1" style="font-size:10px">+</tspan><tspan dy="3.6" dx="-0.95">  (MeV</tspan><tspan dy="-4" dx="0.5" style="font-size:9.8px">−</tspan><tspan dy="-1" style="font-size:9.8px">1</tspan><tspan dy="5" dx="1.2">)</tspan></text>
<text transform="translate(13.5 172.0) rotate(-90)" style="font-size:13.9px;stroke-width:0.05px">Invariant</text>
<text transform="translate(13.5 115.0) rotate(-90)" style="font-size:13.9px;stroke-width:0.05px" letter-spacing="0.3">mass</text>
<text transform="translate(13.5 83.1) rotate(-90)" style="font-size:13.9px;stroke-width:0.05px">(MeV)</text>
<text x="71.6" y="23.5" text-anchor="start" style="font-size:13.0px;stroke-width:0.08px" font-style="italic">K</text>
<text x="80.6" y="25.8" text-anchor="start" style="font-size:9.8px;stroke-width:0.05px">max</text>
<text x="99.2" y="24.6" text-anchor="start" style="font-size:13.0px;stroke-width:0.08px">=</text>
<text x="108.2" y="23.5" text-anchor="start" style="font-size:13.0px;stroke-width:0.08px">12</text>
<text x="123.9" y="23.5" text-anchor="start" style="font-size:13.0px;stroke-width:0.08px" font-style="italic">l</text>
<text x="127.8" y="24.6" text-anchor="start" style="font-size:13.0px;stroke-width:0.08px">=</text>
<text x="135.8" y="23.5" text-anchor="start" style="font-size:13.0px;stroke-width:0.08px">2</text>
<text x="146.0" y="23.5" text-anchor="start" style="font-size:13.0px;stroke-width:0.08px">MeV</text>
<text x="347.6" y="158.65" text-anchor="start" style="font-size:13.0px;stroke-width:0.08px" font-style="italic">a</text>
<text x="353.8" y="160.45000000000002" text-anchor="start" style="font-size:9.8px;stroke-width:0.05px">0</text>
<text x="360.7" y="159.75" text-anchor="start" style="font-size:13.0px;stroke-width:0.08px">=</text>
<text x="369.0" y="158.65" text-anchor="start" style="font-size:13.0px;stroke-width:0.08px">0.1</text>
<text x="347.6" y="182.0" text-anchor="start" style="font-size:13.0px;stroke-width:0.08px" font-style="italic">a</text>
<text x="353.8" y="183.8" text-anchor="start" style="font-size:9.8px;stroke-width:0.05px">0</text>
<text x="360.7" y="183.1" text-anchor="start" style="font-size:13.0px;stroke-width:0.08px">=</text>
<text x="369.0" y="182.0" text-anchor="start" style="font-size:13.0px;stroke-width:0.08px">1</text>
<text x="347.6" y="205.5" text-anchor="start" style="font-size:13.0px;stroke-width:0.08px" font-style="italic">a</text>
<text x="353.8" y="207.3" text-anchor="start" style="font-size:9.8px;stroke-width:0.05px">0</text>
<text x="360.7" y="206.6" text-anchor="start" style="font-size:13.0px;stroke-width:0.08px">=</text>
<text x="369.0" y="205.5" text-anchor="start" style="font-size:13.0px;stroke-width:0.08px">10</text>
</svg>
</body></html>
